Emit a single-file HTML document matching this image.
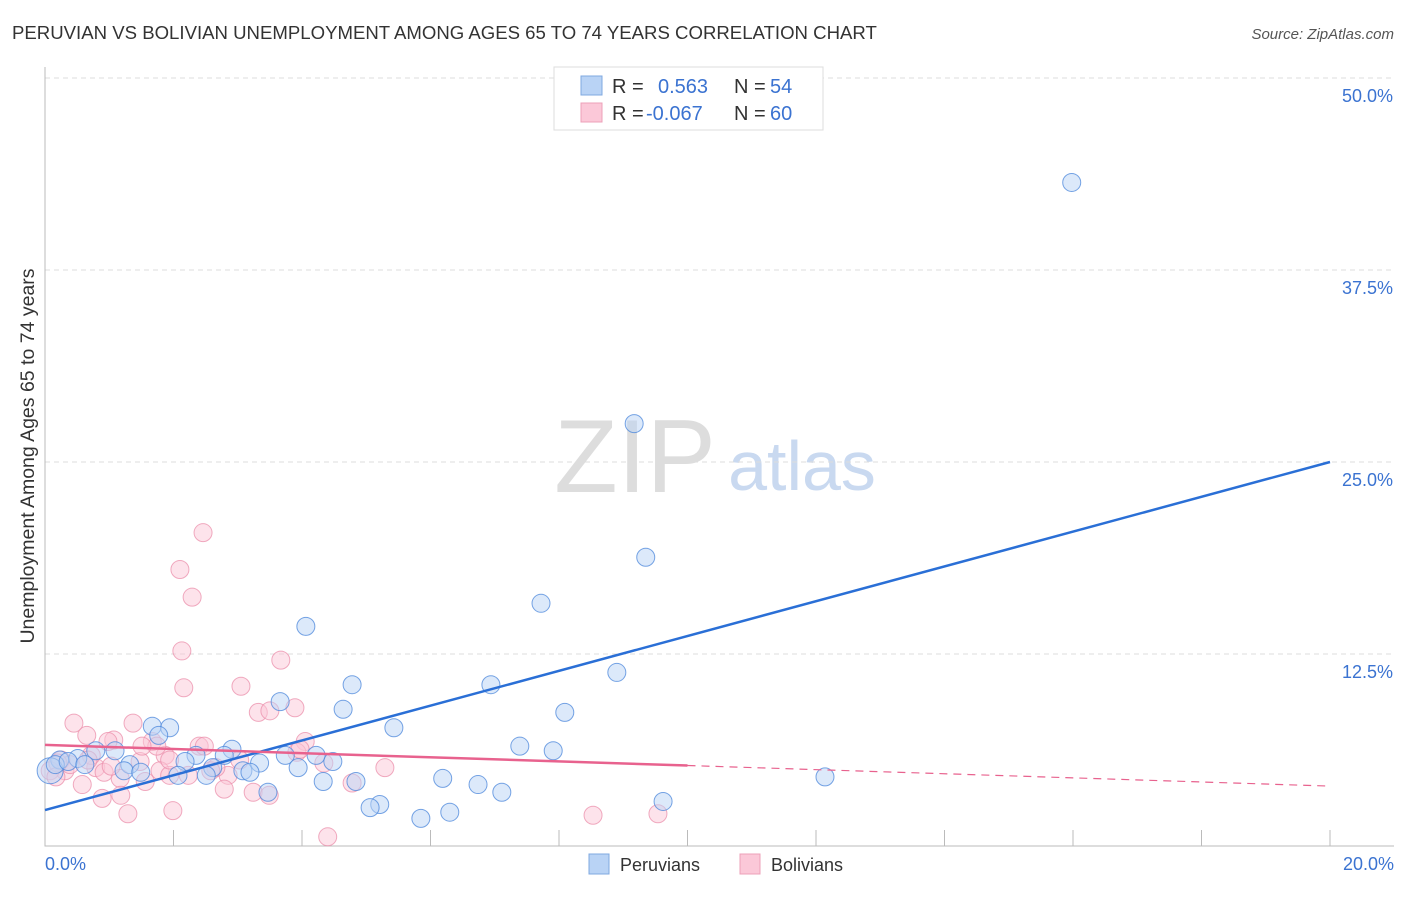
<!DOCTYPE html>
<html><head><meta charset="utf-8">
<style>
body{margin:0;background:#fff;font-family:"Liberation Sans",sans-serif;}
svg text{font-family:"Liberation Sans",sans-serif;}
</style></head>
<body>
<svg id="chart" width="1406" height="892" viewBox="0 0 1406 892">
<text x="12" y="39" font-size="18.6" fill="#333">PERUVIAN VS BOLIVIAN UNEMPLOYMENT AMONG AGES 65 TO 74 YEARS CORRELATION CHART</text>
<text x="1394" y="39" font-size="15" fill="#555" font-style="italic" text-anchor="end">Source: ZipAtlas.com</text>
<text x="635" y="492" font-size="104" fill="#ddd" font-family="Liberation Serif,serif" text-anchor="middle">ZIP</text>
<text x="802" y="490" font-size="70" fill="#c9d9f0" text-anchor="middle">atlas</text>
<g id="grid"></g>
<g id="axes"></g>
<g id="pts"></g>
<g id="lines"></g>
<text transform="translate(34,456) rotate(-90)" font-size="19.5" fill="#333" text-anchor="middle">Unemployment Among Ages 65 to 74 years</text>
<g>
<rect x="554" y="67" width="269" height="63" fill="#fff" stroke="#ddd"/>
<rect x="581" y="76" width="21" height="19" fill="#b9d3f5" stroke="#7fa8e0"/>
<rect x="581" y="103" width="21" height="19" fill="#fbc8d8" stroke="#eda0b8"/>
<text x="612" y="93" font-size="20" fill="#333">R =</text>
<text x="658" y="93" font-size="20" fill="#3b73d1">0.563</text>
<text x="734" y="93" font-size="20" fill="#333">N =</text>
<text x="770" y="93" font-size="20" fill="#3b73d1">54</text>
<text x="612" y="120" font-size="20" fill="#333">R =</text>
<text x="646" y="120" font-size="20" fill="#3b73d1">-0.067</text>
<text x="734" y="120" font-size="20" fill="#333">N =</text>
<text x="770" y="120" font-size="20" fill="#3b73d1">60</text>
</g>
<g>
<rect x="589" y="854" width="20" height="20" fill="#b9d3f5" stroke="#7fa8e0"/>
<text x="620" y="871" font-size="18" fill="#333">Peruvians</text>
<rect x="740" y="854" width="20" height="20" fill="#fbc8d8" stroke="#eda0b8"/>
<text x="771" y="871" font-size="18" fill="#333">Bolivians</text>
</g>
</svg>
<script>
const yTicks=[12.5,25,37.5,50];
const yTickLabels=["12.5%","25.0%","37.5%","50.0%"];
const xTickLabels=["0.0%","20.0%"];
const blueX=[15.98,9.17,9.35,7.72,4.06,8.90,4.78,6.94,3.66,8.09,4.64,5.43,1.67,1.94,1.77,7.39,7.91,2.91,0.79,1.09,2.35,2.79,3.74,4.22,4.48,3.34,2.18,0.51,0.23,1.32,2.61,3.94,3.08,3.19,1.23,1.49,2.51,2.07,12.14,6.19,4.84,4.33,6.74,3.47,7.11,9.62,5.21,5.06,6.30,5.85,0.08,0.16,0.36,0.62];
const blueY=[43.2,27.5,18.8,15.8,14.3,11.3,10.5,10.5,9.4,8.7,8.9,7.7,7.8,7.7,7.2,6.5,6.2,6.3,6.2,6.2,5.9,5.9,5.9,5.9,5.5,5.4,5.5,5.7,5.6,5.3,5.1,5.1,4.9,4.8,4.9,4.8,4.6,4.6,4.5,4.4,4.2,4.2,4.0,3.5,3.5,2.9,2.7,2.5,2.2,1.8,4.9,5.3,5.5,5.3];
const pinkX=[2.46,2.10,2.29,2.13,3.67,2.16,3.05,3.89,3.32,3.50,0.45,1.37,0.65,4.05,1.07,1.67,2.40,2.48,0.98,1.87,3.92,1.74,0.25,1.48,4.34,5.29,0.79,0.31,0.92,1.79,2.23,2.85,2.66,1.94,0.08,1.56,0.58,1.17,2.79,4.78,3.24,3.49,1.18,0.89,1.99,1.29,8.53,9.54,4.40,0.39,0.20,3.03,0.72,1.03,0.67,1.94,1.51,0.17,2.58,3.97];
const pinkY=[20.4,18.0,16.2,12.7,12.1,10.3,10.4,9.0,8.7,8.8,8.0,8.0,7.2,6.8,6.9,6.8,6.5,6.5,6.8,5.9,6.1,6.5,5.6,5.5,5.4,5.1,5.1,4.9,4.8,4.9,4.6,4.6,5.1,4.6,4.9,4.2,4.0,4.4,3.7,4.1,3.5,3.3,3.3,3.1,2.3,2.1,2.0,2.1,0.6,5.3,5.4,5.6,5.9,5.2,5.6,5.6,6.5,4.5,4.9,6.3];
const blueFit=[2.34,25.0];
const pinkFit=[6.58,3.9];
const NS="http://www.w3.org/2000/svg";
const X0=45,X1=1330,Y0=846,PPY=192/12.5;
const sx=v=>X0+(X1-X0)*v/20;
const sy=v=>Y0-v*PPY;
function mk(tag,attrs,parent){const e=document.createElementNS(NS,tag);for(const k in attrs)e.setAttribute(k,attrs[k]);document.getElementById(parent).appendChild(e);return e;}
yTicks.forEach((t,i)=>{
 const g=mk('line',{x1:X0,x2:1394,y1:sy(t),y2:sy(t),stroke:'#ddd','stroke-dasharray':'5,4'},'grid');
 
 
 const l=mk('text',{x:1393,y:sy(t)+24,'font-size':18,fill:'#3b73d1','text-anchor':'end'},'axes');
 l.textContent=yTickLabels[i];
 
 
});
const ax=mk('path',{d:`M${X0},67V${Y0}H1394`,stroke:'#bbb',fill:'none'},'axes');


for(let i=1;i<=10;i++){
 const t=mk('line',{x1:sx(i*2),x2:sx(i*2),y1:Y0-16,y2:Y0,stroke:'#bbb'},'axes');
 
 
}
const xl0=mk('text',{x:45,y:870,'font-size':18,fill:'#3b73d1'},'axes');xl0.textContent=xTickLabels[0];


const xl1=mk('text',{x:1394,y:870,'font-size':18,fill:'#3b73d1','text-anchor':'end'},'axes');xl1.textContent=xTickLabels[1];


function pts(xs,ys,fill,stroke,name){xs.forEach((x,i)=>{
 const c=mk('circle',{cx:sx(x),cy:sy(ys[i]),r:(i===xs.length-4&&name==='peruvian-point')?13:9,fill:fill,'fill-opacity':0.5,stroke:stroke,'stroke-opacity':0.75,'stroke-width':1},'pts');
 
 
});}
pts(pinkX,pinkY,'#fbc8d8','#eb8fab','bolivian-point');
pts(blueX,blueY,'#b9d3f5','#4a86db','peruvian-point');
const bl=mk('line',{x1:sx(0),y1:sy(blueFit[0]),x2:sx(20),y2:sy(blueFit[1]),stroke:'#2a6fd6','stroke-width':2.5},'lines');


const pm=pinkFit[0]+(pinkFit[1]-pinkFit[0])*0.5;
const pl=mk('line',{x1:sx(0),y1:sy(pinkFit[0]),x2:sx(10),y2:sy(pm),stroke:'#e8628e','stroke-width':2.5},'lines');


const pd=mk('line',{x1:sx(10),y1:sy(pm),x2:sx(20),y2:sy(pinkFit[1]),stroke:'#e8628e','stroke-width':1.2,'stroke-dasharray':'8,6'},'lines');


</script>
</body></html>
